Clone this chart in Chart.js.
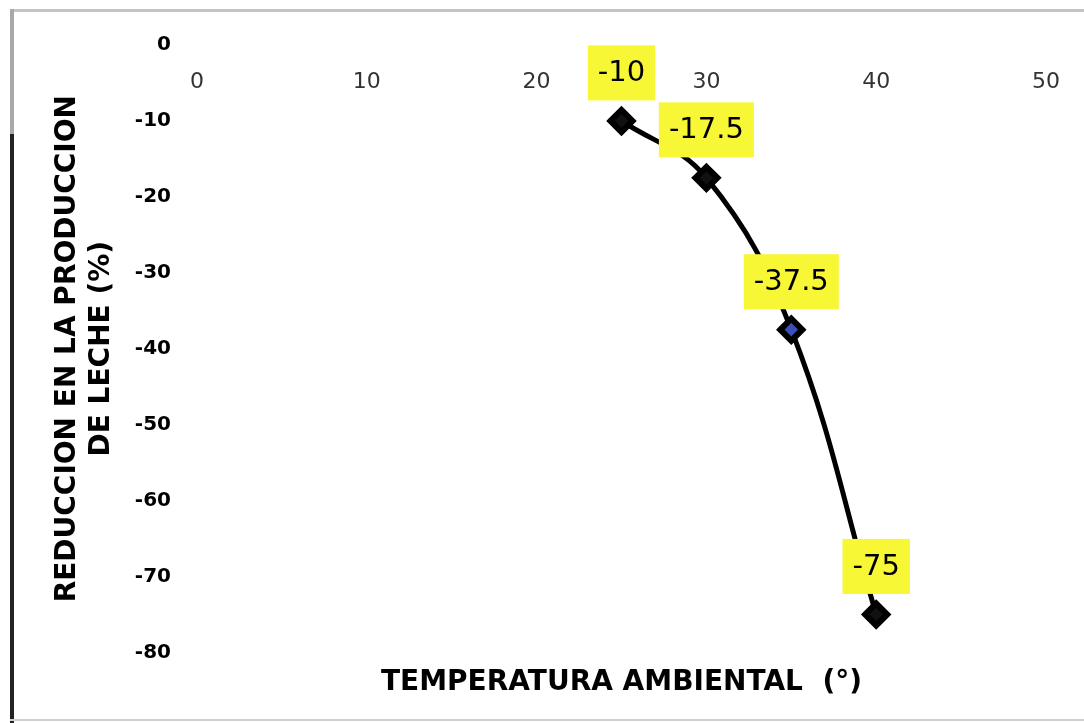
<!DOCTYPE html>
<html>
<head>
<meta charset="utf-8">
<script src="https://cdn.jsdelivr.net/npm/chart.js@4/dist/chart.umd.min.js"></script>
<style>
  html, body { margin: 0; padding: 0; background: #fff; }
  #wrap { position: relative; width: 1084px; height: 723px; overflow: hidden; }
  #frameTop { position: absolute; left: 10px; top: 9px; width: 1074px; height: 3px; background: #c4c4c4; }
  #frameLeftA { position: absolute; left: 10px; top: 9px; width: 4px; height: 125px; background: #a8a8a8; }
  #frameLeftB { position: absolute; left: 10px; top: 134px; width: 4px; height: 589px; background: #222; }
  #frameBottom { position: absolute; left: 10px; top: 719px; width: 1074px; height: 2px; background: #d0d0d0; }
</style>
</head>
<body>
<div id="wrap">
  <canvas id="c" width="1084" height="723"></canvas>
  <div id="frameTop"></div>
  <div id="frameLeftA"></div>
  <div id="frameLeftB"></div>
  <div id="frameBottom"></div>
</div>
<script>
// ---- data ----
const temperatures = [25, 30, 35, 40];
const reductions = [-10, -17.5, -37.5, -75];
const pointLabels = ["-10", "-17.5", "-37.5", "-75"];
const xTicks = [0, 10, 20, 30, 40, 50];
const yTicks = [0, -10, -20, -30, -40, -50, -60, -70, -80];
const xTitle = "TEMPERATURA AMBIENTAL  (°)";
const yTitle = ["REDUCCION EN LA PRODUCCION", "DE LECHE (%)"];

const points = temperatures.map((t, i) => ({ x: t, y: reductions[i] }));

const labelBoxes = {
  id: 'labelBoxes',
  afterDatasetsDraw(chart) {
    const ctx = chart.ctx;
    const meta = chart.getDatasetMeta(0);
    ctx.save();
    ctx.font = '29px "DejaVu Sans"';
    ctx.textAlign = 'center';
    ctx.textBaseline = 'middle';
    meta.data.forEach((el, i) => {
      const txt = pointLabels[i];
      const w = ctx.measureText(txt).width + 20;
      const h = 55;
      const cx = el.x, cy = el.y - 48;
      ctx.fillStyle = '#f7f736';
      ctx.fillRect(cx - w / 2, cy - h / 2, w, h);
      ctx.fillStyle = '#000';
      ctx.fillText(txt, cx, cy + 1);
    });
    ctx.restore();
  }
};

new Chart(document.getElementById('c'), {
  type: 'line',
  data: {
    datasets: [{
      data: points,
      borderColor: '#000',
      borderWidth: 5,
      tension: 0.4,
      fill: false,
      pointStyle: 'rectRot',
      pointRadius: 11,
      pointBorderWidth: 6,
      pointBorderColor: '#000',
      pointBackgroundColor: ['#111', '#111', '#3b50b4', '#111']
    }]
  },
  options: {
    responsive: false,
    animation: false,
    events: [],
    layout: { padding: { left: 47, right: 36, top: 45, bottom: 23 } },
    plugins: {
      legend: { display: false },
      tooltip: { enabled: false },
      title: {
        display: true,
        text: xTitle,
        position: 'bottom',
        fullSize: false,
        color: '#000',
        font: { family: '"DejaVu Sans"', size: 28, weight: 'bold', lineHeight: 1.2 },
        padding: { top: 14, bottom: 0 }
      }
    },
    scales: {
      x: {
        type: 'linear',
        position: { y: 0 },
        min: 0, max: 50,
        afterBuildTicks: (s) => { s.ticks = xTicks.map(v => ({ value: v })); },
        grid: { display: false, drawTicks: false },
        border: { display: false },
        ticks: {
          color: '#333',
          padding: 24,
          font: { family: '"DejaVu Sans"', size: 22 }
        }
      },
      y: {
        type: 'linear',
        position: 'left',
        min: -80, max: 0,
        afterBuildTicks: (s) => { s.ticks = yTicks.map(v => ({ value: v })); },
        afterFit: (s) => { s.width = 150; },
        grid: { display: false, drawTicks: false },
        border: { display: false },
        ticks: {
          color: '#000',
          padding: 26,
          font: { family: '"DejaVu Sans"', size: 20, weight: 'bold' }
        },
        title: {
          display: true,
          text: yTitle,
          color: '#000',
          font: { family: '"DejaVu Sans"', size: 28, weight: 'bold', lineHeight: 1.2 },
          padding: { top: 4, bottom: 4 }
        }
      }
    }
  },
  plugins: [labelBoxes]
});
</script>
</body>
</html>
